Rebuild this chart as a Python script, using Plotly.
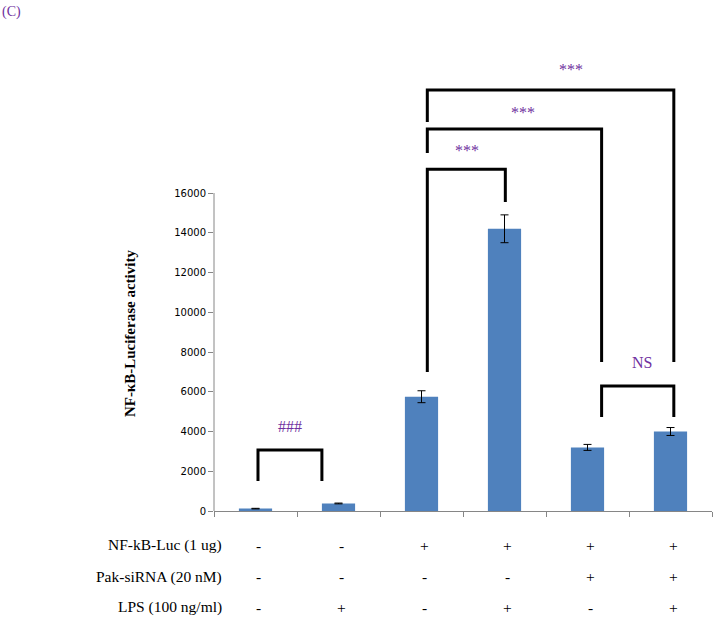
import plotly.graph_objects as go

# bar data
groups = ["1", "2", "3", "4", "5", "6"]
luciferase = [120, 380, 5750, 14200, 3200, 4000]
errors = [15, 20, 300, 700, 150, 200]
y_ticks = [0, 2000, 4000, 6000, 8000, 10000, 12000, 14000, 16000]

# treatment table under the bars
row_labels = ["NF-kB-Luc (1 ug)", "Pak-siRNA (20 nM)", "LPS (100 ng/ml)"]
nfkb_luc = ["-", "-", "+", "+", "+", "+"]
pak_sirna = ["-", "-", "-", "-", "+", "+"]
lps = ["-", "+", "-", "+", "-", "+"]

# significance brackets: left x, right x, top y, left leg bottom, right leg bottom
br_x0 = [0.03, 2.07, 2.07, 2.07, 4.17]
br_x1 = [0.80, 3.01, 4.17, 5.04, 5.04]
br_top = [3070, 17200, 19220, 21180, 6290]
br_y0 = [1510, 7000, 18010, 19570, 4730]
br_y1 = [1510, 15550, 7500, 7500, 4730]
br_text = ["###", "***", "***", "***", "NS"]
br_text_x = [0.42, 2.55, 3.22, 3.80, 4.66]
br_text_y = [4230, 18160, 20030, 22190, 7450]

purple = "#7030A0"
axis_grey = "#868686"
serif = "Liberation Serif"

fig = go.Figure()
fig.add_trace(go.Bar(
    x=groups, y=luciferase, width=0.4,
    marker=dict(color="#4F81BD", line=dict(width=0)),
    error_y=dict(type="data", array=errors, color="black", thickness=1, width=4),
))

shapes = [dict(type="line", xref="paper", yref="y", x0=0, x1=0, y0=0, y1=y_ticks[-1],
               line=dict(color=axis_grey, width=1))]
annotations = []
for i in range(len(br_text)):
    path = "M {a},{b} L {a},{c} L {d},{c} L {d},{e}".format(
        a=br_x0[i], b=br_y0[i], c=br_top[i], d=br_x1[i], e=br_y1[i])
    shapes.append(dict(type="path", xref="x", yref="y", path=path,
                       line=dict(color="black", width=3)))
    annotations.append(dict(x=br_text_x[i], y=br_text_y[i], xref="x", yref="y",
                            text=br_text[i], showarrow=False,
                            font=dict(family=serif, size=16, color=purple)))

rows = [nfkb_luc, pak_sirna, lps]
row_shift = [-34, -65.5, -96]
for label, signs, shift in zip(row_labels, rows, row_shift):
    annotations.append(dict(x=-0.5, y=0, xref="x", yref="paper", xanchor="right",
                            yanchor="middle", xshift=10, yshift=shift, text=label,
                            showarrow=False, font=dict(family=serif, size=15.5, color="black")))
    for j, s in enumerate(signs):
        annotations.append(dict(x=j, y=0, xref="x", yref="paper", xshift=3,
                                yanchor="middle", yshift=shift, text=s, showarrow=False,
                                font=dict(family=serif, size=15.5, color="black")))

annotations.append(dict(x=-0.5, y=8950, xref="x", yref="y", xshift=-84,
                        text="<b>NF-κB-Luciferase activity</b>", textangle=-90,
                        showarrow=False, font=dict(family=serif, size=15, color="black")))
annotations.append(dict(x=0, y=1, xref="paper", yref="paper", xshift=-214, yshift=32,
                        xanchor="left", yanchor="top", text="(C)", showarrow=False,
                        font=dict(family=serif, size=14, color=purple)))

fig.update_layout(
    width=716, height=617,
    margin=dict(l=214, r=4, t=34, b=106),
    paper_bgcolor="white", plot_bgcolor="white",
    showlegend=False,
    shapes=shapes,
    annotations=annotations,
    xaxis=dict(type="category", range=[-0.5, 5.5], showticklabels=False,
               showline=True, linecolor=axis_grey, linewidth=1,
               ticks="outside", tickson="boundaries", ticklen=5, tickcolor=axis_grey,
               showgrid=False, zeroline=False),
    yaxis=dict(range=[0, 24000], tickvals=y_ticks, ticktext=[str(v) for v in y_ticks],
               showline=False, ticks="outside", ticklen=5, tickcolor=axis_grey,
               showgrid=False, zeroline=False,
               tickfont=dict(family="DejaVu Sans", size=10, color="black")),
)

fig.write_html("out.html", config={"displayModeBar": False},
               post_script="document.body.style.margin = '0';")
